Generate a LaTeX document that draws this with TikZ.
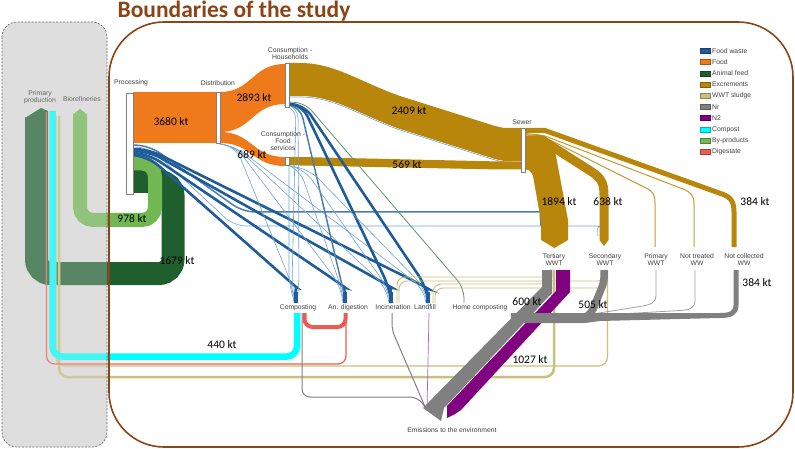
\documentclass[tikz,border=0pt]{standalone}
\usepackage{fontspec}
\setmainfont{Liberation Sans}
\newfontfamily\calib{Carlito}
\definecolor{fw}{HTML}{1F5C99}
\definecolor{fwl}{HTML}{6FA2D6}
\definecolor{food}{HTML}{EE7A1C}
\definecolor{feed}{HTML}{1F5F2E}
\definecolor{exc}{HTML}{B8860B}
\definecolor{sludge}{HTML}{C8C07C}
\definecolor{nr}{HTML}{808080}
\definecolor{ntwo}{HTML}{800080}
\definecolor{compost}{HTML}{00FFFF}
\definecolor{byp}{HTML}{72B852}
\definecolor{dig}{HTML}{EE5A52}
\definecolor{brn}{HTML}{8A4416}
\definecolor{boxgray}{HTML}{DEDEDE}
\definecolor{lbl}{HTML}{404040}
\definecolor{hcomp}{HTML}{5E9460}
\begin{document}
\begin{tikzpicture}[x=1pt,y=-1pt,
 bar/.style={draw=nr, fill=white, line width=0.9pt, inner sep=0pt},
 lab/.style={font=\fontsize{6.8}{7.4}\selectfont, text=lbl, align=center, inner sep=0pt},
 kt/.style={font=\calib\fontsize{11.5}{12}\selectfont, inner sep=0pt},
 fwT/.style={draw=fw, line width=2.6pt, rounded corners=12pt},
 fwM/.style={draw=fw!80!white, line width=1.5pt, rounded corners=12pt},
 fwL/.style={draw=fwl, line width=0.6pt, rounded corners=12pt},
 sl/.style={draw=sludge, line width=0.9pt, rounded corners=8pt},
 legsw/.style={line width=0.5pt, minimum width=10pt, minimum height=5pt, inner sep=0pt},
 legtx/.style={font=\fontsize{6.8}{7.4}\selectfont, text=lbl, anchor=west, inner sep=0pt}
]
\useasboundingbox (0,0) rectangle (795,449);
\fill[boxgray, rounded corners=15pt] (2,22) rectangle (107,447);

% animal feed
\draw[feed, line width=23pt, rounded corners=14pt] (133,181.5) -- (173,181.5) -- (173,273.5) -- (36.5,273.5) -- (36.5,117.5);
\fill[feed] (25,118) -- (41,108) -- (48,111) -- (48,118) -- cycle;
% by-products
\draw[byp, line width=14pt, rounded corners=13pt] (133,163.5) -- (155,163.5) -- (155,220) -- (80,220) -- (80,114);
\fill[byp] (73,114.5) -- (80,109) -- (87,114.5) -- cycle;

% food waste to WWT
\draw[fwM] (133,145) -- (150,146) -- (243,212) -- (532,212) .. controls (538,212) and (541,216) .. (541,226);
\draw[fwL] (133,147) -- (150,148) -- (234,226) -- (590,226) .. controls (596,226) and (598,229) .. (598,236);

% excrements
\fill[exc] (289,63) -- (300,63) .. controls (335,63) and (360,82) .. (400,96) -- (495,126) .. controls (503,128) .. (512,128) -- (521,128) -- (521,161) -- (512,161) .. controls (503,161) .. (495,159) -- (400,129) .. controls (360,115) and (335,96) .. (300,96) -- (289,96) -- cycle;
\draw[fwl, line width=0.6pt] (289,97) -- (300,97) .. controls (335,97) and (360,116) .. (400,130) -- (495,160) .. controls (503,162) .. (512,162);
\fill[exc] (289,157) -- (300,157) -- (500,161.5) -- (521,161.5) -- (521,169.5) -- (500,169.5) -- (300,165.5) -- (289,165.5) -- cycle;

\draw[exc, line width=5pt] (525,130.5) -- (545,130.5) -- (722,194) .. controls (731,197) and (734,202) .. (734,212) -- (734,247);
\draw[exc!85!white, line width=1pt] (525,133.5) -- (540,135) -- (646,188) .. controls (653,191) and (655,195) .. (655,203) -- (655,247);
\draw[exc!85!white, line width=1pt] (525,134.5) -- (545,136) -- (683,189) .. controls (691,192) and (694,196) .. (694,204) -- (694,247);
\draw[exc, line width=9pt] (525,140) -- (542,140) -- (592,172) .. controls (601,178) and (604,183) .. (604,195) -- (604,240);
\fill[exc] (599.5,240) -- (608.5,240) -- (604,246) -- cycle;
\fill[exc] (525,143) -- (543,143) .. controls (551,144) and (554,148) .. (556,156) -- (568,220) -- (568,240) -- (554.5,248) -- (541,240) -- (541,221) -- (533,176) .. controls (531,171) and (529,169.5) .. (525,169.5) -- cycle;

% food
\fill[food] (133,92) rectangle (216.5,143);
\fill[food] (220,92) .. controls (252,92) and (252,64) .. (285,64) -- (285,104) .. controls (252,104) and (252,132) .. (220,132) -- cycle;
\fill[food] (220,132) .. controls (252,132) and (252,157) .. (285,157) -- (285,166) .. controls (252,166) and (252,143) .. (220,143) -- cycle;

% food waste from processing
\draw[fwT] (133,149) -- (150,150) -- (418,283) .. controls (425,287) and (428,290) .. (428,303);
\draw[fwT] (133,151) -- (150,152) -- (382,282) .. controls (389,286) and (391,290) .. (391,303);
\draw[fwT] (133,153) -- (150,155) -- (336,281) .. controls (343,286) and (345,290) .. (345,303);
\draw[fwT] (133,155) -- (150,158) -- (288,280) .. controls (295,286) and (296,290) .. (296,303);
% from distribution
\draw[fwL] (220,144) -- (236,147) -- (292,285) -- (294,303);
\draw[fwL] (220,144) -- (236,147) -- (340,285) -- (343,303);
\draw[fwL] (220,144) -- (236,147) -- (386,287) -- (389,303);
\draw[fwL] (220,144) -- (236,147) -- (423,288) -- (426,303);
% from households
\draw[fwL] (289,105) -- (298,106) -- (299,285) -- (297,303);
\draw[fwL] (289,106) -- (296,107) -- (292,285) -- (295,303);
\draw[fwM] (289,105) -- (300,106) -- (342,285) -- (346,303);
\draw[fwT] (289,104) -- (302,105) -- (388,285) -- (392,303);
\draw[fwT] (289,104) -- (304,105) -- (425,285) -- (429,303);
\draw[hcomp, line width=0.8pt, rounded corners=10pt] (289,102) -- (305,103) -- (464,288) -- (464,303);
% from food services
\draw[fwL] (289,166) -- (289,285) -- (295,303);
\draw[fwL] (290,166) -- (300,170) -- (341,287) -- (344,303);
\draw[fwL] (290,166) -- (305,170) -- (387,287) -- (390,303);
\draw[fwL] (290,166) -- (310,170) -- (424,287) -- (427,303);
% stubs
\draw[fw, line width=4.5pt] (296,292) -- (296,303);
\draw[fw, line width=4.5pt] (345,292) -- (345,303);
\draw[fw, line width=4.5pt] (391,292) -- (391,303);
\draw[fw, line width=4pt] (428,292) -- (428,303);

% sludge
\draw[sl] (551,270) -- (551,277) -- (397,277) -- (397,303);
\draw[sl] (606,270) -- (606,281) -- (399,281) -- (399,303);
\draw[sl] (552,270) -- (552,284) -- (433,284) -- (433,303);
\draw[sl] (607,270) -- (607,288) -- (435,288) -- (435,303);
\draw[sludge, line width=2.5pt, rounded corners=9pt] (554,270) -- (554,377) -- (59,377) -- (59,116);
\draw[sludge, line width=1.2pt, rounded corners=9pt] (607.5,270) -- (607.5,366) -- (56,366) -- (56,116);

% digestate, compost
\draw[dig, line width=1.2pt, rounded corners=8pt] (346,313) -- (346,364) -- (46.5,364) -- (46.5,112);
\draw[nr, line width=1pt, rounded corners=8pt] (302,313) -- (302,397) -- (418,397) -- (427,410);
\draw[dig, line width=4pt, rounded corners=8pt] (304.5,313) -- (304.5,327) -- (345.5,327) -- (345.5,313);
\draw[compost, line width=6.5pt, rounded corners=10pt] (297,313) -- (297,356.5) -- (52.5,356.5) -- (52.5,111);

% emissions
\draw[nr, line width=1pt, rounded corners=6pt] (392,313) -- (392,330) -- (426,409);
\draw[ntwo!60!white, line width=0.7pt] (429,313) -- (427,410);
\fill[ntwo] (556,270) -- (570,270) -- (570,292) -- (461,410) -- (455,414) -- (447,418) -- (447,406) -- (556,291) -- cycle;
\fill[nr] (542,270) -- (552,270) -- (552,293) -- (444,408) -- (441,421) -- (423,408) -- (542,287) -- cycle;
\draw[nr!75!white, line width=0.8pt] (656,270) -- (656,295) .. controls (656,303) and (650,305) .. (640,306.5) -- (580,316);
\draw[nr!75!white, line width=0.8pt] (695,270) -- (695,300) .. controls (695,308) and (690,310) .. (680,310.5) -- (585,316);
\draw[nr, line width=7.5pt, rounded corners=4pt] (604,270) -- (604,282) -- (592,312) -- (585,318);
\fill[nr] (511,313) -- (720,313) -- (720,318) -- (600,321) -- (585,323) -- (511,323) -- cycle;
\draw[nr, line width=5pt] (736,270) -- (736,305) .. controls (736,313) and (731,315.5) .. (720,315.5);

% bars
\node[bar, minimum width=7pt, minimum height=101pt] (proc) at (129.5,143.5) {};
\node[bar, minimum width=4pt, minimum height=51pt] (dist) at (218.3,117.5) {};
\node[bar, minimum width=4pt, minimum height=44pt] (hh) at (287,85) {};
\node[bar, minimum width=4pt, minimum height=8.5pt] (fs) at (287,161.3) {};
\node[bar, minimum width=4pt, minimum height=44pt] (sewer) at (523,150) {};

% overlay of the outside box
\fill[boxgray, fill opacity=0.3, rounded corners=15pt] (2,22) rectangle (107,447);
\draw[nr!80!black, line width=0.7pt, dash pattern=on 2pt off 1.5pt, rounded corners=15pt] (2,22) rectangle (107,447);
% study boundary
\draw[brn, line width=1.6pt, rounded corners=55pt] (109,22) rectangle (793,447);

% title
\node[font=\calib\bfseries\fontsize{23.5}{25}\selectfont, text=brn, inner sep=0pt] (title) at (234,11) {Boundaries of the study};

% node labels
\node[lab, text=lbl!80] (lpp) at (40,97) {Primary\\production};
\node[lab, text=lbl!80] (lbio) at (82,99) {Biorefineries};
\node[lab] (lproc) at (131,83) {Processing};
\node[lab] (ldist) at (218,83) {Distribution};
\node[lab] (lhh) at (290,53.5) {Consumption -\\Households};
\node[lab] (lfs) at (283,141) {Consumption -\\Food\\services};
\node[lab] (lsew) at (522,122) {Sewer};
\node[lab] (lter) at (554,259.5) {Tertiary\\WWT};
\node[lab] (lsec) at (605,259.5) {Secondary\\WWT};
\node[lab] (lpri) at (656,259.5) {Primary\\WWT};
\node[lab] (lnt) at (697,259.5) {Not treated\\WW};
\node[lab] (lnc) at (744,259.5) {Not collected\\WW};
\node[lab] (lcomp) at (298,307.5) {Composting};
\node[lab] (ldig) at (348,307.5) {An. digestion};
\node[lab] (linc) at (393,307.5) {Incineration};
\node[lab] (llan) at (425,307.5) {Landfill};
\node[lab] (lhome) at (480,307.5) {Home composting};
\node[lab] (lemi) at (452,430) {Emissions to the environment};

% quantities
\node[kt] (k1) at (171,122) {3680 kt};
\node[kt] (k2) at (254,98) {2893 kt};
\node[kt] (k3) at (252,155) {689 kt};
\node[kt] (k4) at (409,111) {2409 kt};
\node[kt] (k5) at (407,165) {569 kt};
\node[kt] (k6) at (132,219) {978 kt};
\node[kt] (k7) at (177,261) {1679 kt};
\node[kt] (k8) at (559,202) {1894 kt};
\node[kt] (k9) at (608,202) {638 kt};
\node[kt] (k10) at (755,202) {384 kt};
\node[kt] (k11) at (222,345) {440 kt};
\node[kt] (k12) at (527,302) {600 kt};
\node[kt] (k13) at (593,305) {505 kt};
\node[kt] (k14) at (530,360) {1027 kt};
\node[kt] (k15) at (757,283) {384 kt};

% legend
\foreach \c/\t [count=\i from 0] in {fw/Food waste, food/Food, feed/Animal feed, exc/Excrements, sludge/WWT sludge, nr/Nr, ntwo/N2, compost/Compost, byp/By-products, dig/Digestate}{
  \node[legsw, fill=\c, draw=\c!70!black] (sw\i) at (705,{51+11.2*\i}) {};
  \node[legtx] (lt\i) at (712,{51+11.2*\i}) {\t};
}
\end{tikzpicture}
\end{document}
